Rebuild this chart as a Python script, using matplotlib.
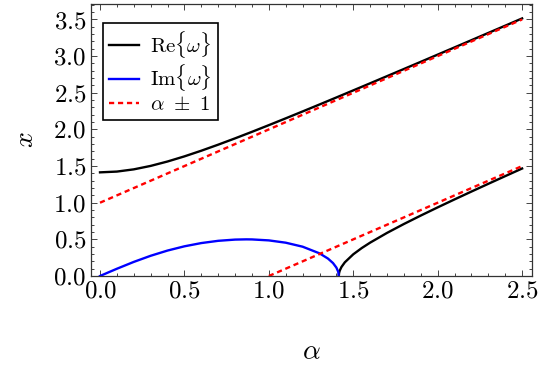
import matplotlib
matplotlib.use("Agg")
import matplotlib.pyplot as plt
from matplotlib.ticker import MultipleLocator

# Re{omega}, upper branch
alpha_up = [0.0, 0.1, 0.2, 0.3, 0.4, 0.5, 0.6, 0.7, 0.8, 0.9, 1.0, 1.1, 1.2,
            1.3, 1.4, 1.5, 1.6, 1.7, 1.8, 1.9, 2.0, 2.1, 2.2, 2.3, 2.4, 2.5]
re_up = [1.4142, 1.4247, 1.4550, 1.5021, 1.5623, 1.6322, 1.7094, 1.7918,
         1.8780, 1.9670, 2.0582, 2.1510, 2.2450, 2.3400, 2.4358, 2.5323,
         2.6292, 2.7266, 2.8242, 2.9222, 3.0205, 3.1189, 3.2175, 3.3162,
         3.4151, 3.5141]

# Re{omega}, lower branch
alpha_lo = [1.4142, 1.416, 1.42, 1.43, 1.45, 1.5, 1.55, 1.6, 1.7, 1.8, 1.9,
            2.0, 2.1, 2.2, 2.3, 2.4, 2.5]
re_lo = [0.0, 0.0411, 0.0740, 0.1229, 0.1869, 0.2962, 0.3811, 0.4554,
         0.5882, 0.7097, 0.8250, 0.9364, 1.0453, 1.1523, 1.2580, 1.3627,
         1.4666]

# Im{omega}
alpha_im = [0.0, 0.05, 0.1, 0.2, 0.3, 0.4, 0.5, 0.6, 0.7, 0.8, 0.866, 0.9,
            1.0, 1.1, 1.2, 1.3, 1.35, 1.38, 1.4, 1.41, 1.412, 1.4142]
im_w = [0.0, 0.0499, 0.0990, 0.1924, 0.2760, 0.3473, 0.4052, 0.4494,
        0.4801, 0.4968, 0.5, 0.4991, 0.4859, 0.4545, 0.4, 0.3093, 0.2382,
        0.1766, 0.1150, 0.0629, 0.0456, 0.0]

# alpha +/- 1
alpha_p = [0.0, 2.5]
line_p = [1.0, 3.5]
alpha_m = [1.0, 2.5]
line_m = [0.0, 1.5]

plt.rcParams['font.family'] = 'serif'
plt.rcParams['font.serif'] = ['cmr10']
plt.rcParams['mathtext.fontset'] = 'cm'
plt.rcParams['axes.formatter.use_mathtext'] = True
plt.rcParams['axes.unicode_minus'] = False

fig = plt.figure(figsize=(5.42, 3.69), dpi=100)
ax = fig.add_axes([0.168, 0.252, 0.814, 0.737])

ax.plot(alpha_up, re_up, color='black', lw=1.7, label=r'$\mathrm{Re}\{\omega\}$')
ax.plot(alpha_lo, re_lo, color='black', lw=1.7)
ax.plot(alpha_im, im_w, color='#0000ff', lw=1.7, label=r'$\mathrm{Im}\{\omega\}$')
ax.plot(alpha_p, line_p, color='#ff0000', lw=1.7, ls=(0, (2.2, 1.6)),
        label=r'$\alpha\ \pm\ 1$')
ax.plot(alpha_m, line_m, color='#ff0000', lw=1.7, ls=(0, (2.2, 1.6)))

ax.set_xlim(-0.053, 2.56)
ax.set_ylim(0, 3.71)
ax.xaxis.set_major_locator(MultipleLocator(0.5))
ax.xaxis.set_minor_locator(MultipleLocator(0.1))
ax.yaxis.set_major_locator(MultipleLocator(0.5))
ax.yaxis.set_minor_locator(MultipleLocator(0.1))
ax.tick_params(which='both', direction='in', top=True, right=True,
               labelsize=18, width=0.7, color='#444444')
ax.tick_params(which='major', length=4.5)
ax.tick_params(which='minor', length=2.5)
for s in ax.spines.values():
    s.set_linewidth(0.9)
    s.set_color('#333333')

ax.set_xlabel(r'$\alpha$', fontsize=20, labelpad=26)
ax.set_ylabel(r'$x$', fontsize=20, labelpad=10)

leg = ax.legend(loc='upper left', fontsize=15, fancybox=False,
                edgecolor='black', framealpha=1, handlelength=1.45,
                borderpad=0.3, labelspacing=0.1, handletextpad=0.5,
                borderaxespad=0, bbox_to_anchor=(0.027, 0.93))
leg.get_frame().set_linewidth(1.2)

fig.savefig('out.png', dpi=100)
